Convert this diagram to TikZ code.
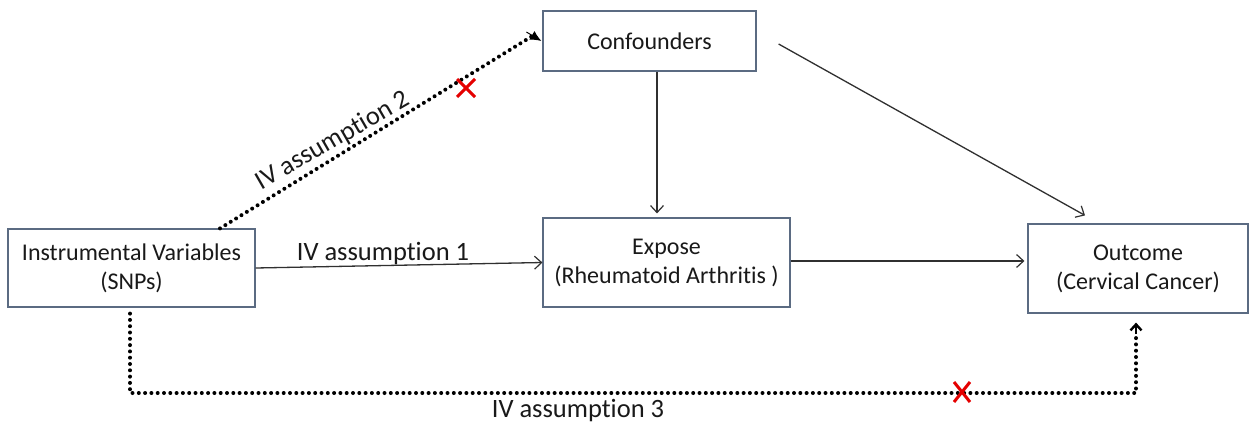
\documentclass[tikz,border=0pt]{standalone}
\usepackage{fontspec}
\setmainfont[Ligatures={NoCommon}]{Carlito}
\usetikzlibrary{arrows.meta}
\definecolor{boxline}{HTML}{5B6B82}
\definecolor{linecol}{HTML}{303030}
\tikzset{
  boxnode/.style={draw=boxline, line width=1.2pt, align=center, inner sep=0pt,
    font=\fontsize{24}{29}\selectfont, text=black!90},
  lbl/.style={font=\fontsize{26.5}{30}\selectfont, text=black!90, inner sep=0pt},
  solidarrow/.style={draw=linecol, line width=1.3pt, -{Straight Barb[length=7pt,width=13pt,line width=1.2pt]}},
  dotline/.style={draw=black, line width=4pt, line cap=round, dash pattern=on 0pt off 6.3pt},
  redx/.style={draw=red!90!black, line width=3pt}
}
\begin{document}
\begin{tikzpicture}[x=1pt,y=-1pt]
\useasboundingbox (0,0) rectangle (1250,423);
\fill[white] (0,0) rectangle (1250,423);
\node[boxnode, minimum width=247pt, minimum height=78pt] (iv) at (131.5,268) {Instrumental Variables\\(SNPs)};
\node[boxnode, minimum width=213pt, minimum height=60pt] (conf) at (649.5,41) {Confounders};
\node[boxnode, minimum width=247pt, minimum height=89pt] (exp) at (666.5,262.5) {Expose\\(Rheumatoid Arthritis )};
\node[boxnode, minimum width=220pt, minimum height=89pt] (out) at (1138,268.5) {Outcome\\(Cervical Cancer)};
% IV assumption 1
\draw[solidarrow] (iv.east) -- (exp.west);
\node[lbl, anchor=base] (l1) at (383,260) {IV assumption 1};
% Confounders arrows
\draw[solidarrow, shorten >=4pt] ([xshift=7.5pt]conf.south) -- ([xshift=7.5pt]conf.south |- exp.north);
\draw[solidarrow] ([xshift=22pt,yshift=-3pt]conf.east) -- ([xshift=-53pt,yshift=8pt]out.north);
\draw[solidarrow, shorten >=3pt] ([yshift=1.5pt]exp.east) -- ([yshift=1.5pt]exp.east -| out.west);
% IV assumption 2
\coordinate (s2) at ([xshift=88.5pt]iv.north);
\draw[dotline] (s2) -- ([xshift=-10pt,yshift=5pt]conf.west);
\draw[black, line width=1pt, -{Latex[length=11pt,width=10pt]}] ([xshift=-16pt,yshift=9pt]conf.west) -- ([xshift=-1pt]conf.west);
\node[lbl, rotate=30] (l2) at (333,141) {IV assumption 2};
\coordinate (x2) at (466,88);
\draw[redx] ([xshift=-9pt,yshift=9pt]x2) -- ([xshift=9pt,yshift=-9pt]x2);
\draw[redx] ([xshift=-9pt,yshift=-9pt]x2) -- ([xshift=9pt,yshift=9pt]x2);
% IV assumption 3
\coordinate (c1) at (130,393);
\coordinate (c2) at (1136,393);
\draw[dotline] ([xshift=-1.5pt,yshift=-6pt]iv.south) -- (c1) -- (c2) -- (c2 |- 0,334);
\draw[black, line width=1.6pt, -{Straight Barb[length=6pt,width=11pt,line width=2.4pt]}] (c2 |- 0,334) -- ([yshift=-9pt]out.south -| c2);
\node[lbl, anchor=base] (l3) at (578,417) {IV assumption 3};
\coordinate (x3) at (962,392);
\draw[redx] ([xshift=-8pt,yshift=10pt]x3) -- ([xshift=8pt,yshift=-10pt]x3);
\draw[redx] ([xshift=-8pt,yshift=-10pt]x3) -- ([xshift=8pt,yshift=10pt]x3);
\end{tikzpicture}
\end{document}
